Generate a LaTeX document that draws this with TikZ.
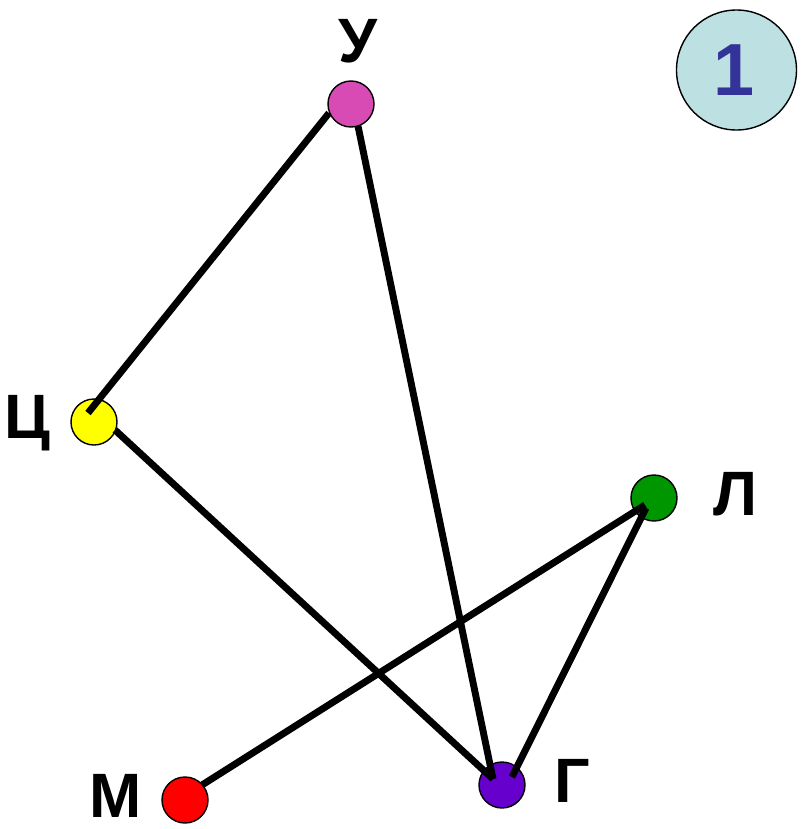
\documentclass[tikz,border=0pt]{standalone}
\usepackage{fontspec}
\setmainfont{Liberation Sans}
\usepackage{xcolor}
\usepackage{tikz}
\usetikzlibrary{calc}

\definecolor{vertU}{RGB}{217,75,180}
\definecolor{vertC}{RGB}{255,255,0}
\definecolor{vertL}{RGB}{0,150,0}
\definecolor{vertM}{RGB}{255,0,0}
\definecolor{vertG}{RGB}{102,0,204}
\definecolor{badgefill}{RGB}{189,224,227}
\definecolor{badgetext}{RGB}{51,51,153}

\begin{document}
\begin{tikzpicture}[
			x=0.03cm, y=-0.03cm,
			vertex/.style={circle, draw, line width=1.2pt, minimum size=1.38cm, inner sep=0pt},
			letter/.style={anchor=base, inner sep=0pt, font=\fontsize{53.5}{60}\selectfont\bfseries},
			edge/.style={line width=5.9pt},
			badge/.style={circle, draw, line width=1.2pt, fill=badgefill, minimum size=3.6cm, inner sep=0pt}
			]
			\useasboundingbox (0,0) rectangle (802,829);
			
			% Nodes
			\node[vertex, fill=vertU] (u) at (351,104) {};
			\node[vertex, fill=vertC] (c) at (94,422) {};
			\node[vertex, fill=vertL] (l) at (654,498) {};
			\node[vertex, fill=vertM] (m) at (185,800) {};
			\node[vertex, fill=vertG] (g) at (502,785) {};
			
			\node[letter] (u-lab) at (358,62) {У};
			\node[letter] (c-lab) at (27,438) {Ц};
			\node[letter] (l-lab) at (735,515) {Л};
			\node[letter] (m-lab) at (116,817) {М};
			\node[letter] (g-lab) at (572,802) {Г};
			
			\node[badge] (num) at (736.5,70) {};
			\node[anchor=base, inner sep=0pt, text=badgetext, font=\fontsize{63}{70}\selectfont\bfseries] (num-lab) at (734,95) {1};
			
			% Edges
			\draw[edge] ($(u)+(-22,9)$) -- ($(c)+(-6,-9)$);
			\draw[edge] ($(u)+(7,22)$) -- ($(g)+(-9,-6)$);
			\draw[edge] ($(c)+(21,8)$) -- ($(g)+(-9,-6)$);
			\draw[edge] ($(l)+(-9,7)$) -- ($(m)+(17,-15)$);
			\draw[edge] ($(l)+(-8,10)$) -- ($(g)+(10,-8)$);
			
		\end{tikzpicture}
\end{document}
